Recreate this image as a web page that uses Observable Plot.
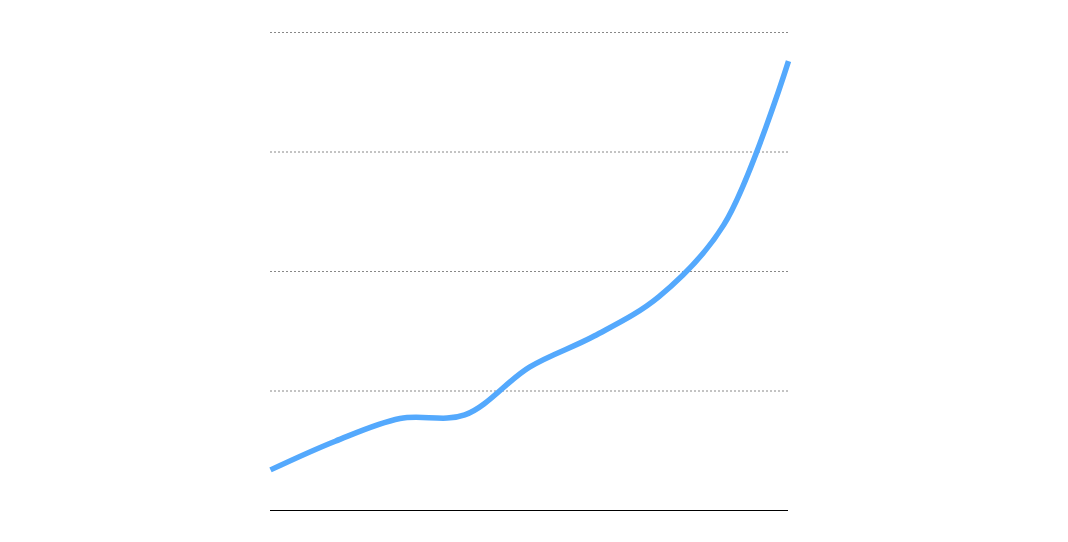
<!DOCTYPE html>
<html>
<head>
<meta charset="utf-8">
<script src="https://cdn.jsdelivr.net/npm/d3@7"></script>
<script src="https://cdn.jsdelivr.net/npm/@observablehq/plot@0.6"></script>
<style>
  html, body { margin: 0; padding: 0; background: #fff; }
  #chart svg { display: block; }
</style>
</head>
<body>
<div id="chart"></div>
<script>
const xIndex = [0, 1, 2, 3, 4, 5, 6, 7, 8];
const values = [0.34, 0.58, 0.77, 0.80, 1.20, 1.46, 1.79, 2.39, 3.76];
const gridTicks = [1, 2, 3, 4];

const data = xIndex.map((x, i) => ({x, y: values[i]}));

const chart = Plot.plot({
  width: 1068,
  height: 542,
  marginLeft: 270,
  marginRight: 280,
  marginTop: 32,
  marginBottom: 32,
  x: {domain: [0, 8], axis: null},
  y: {domain: [0, 4], axis: null},
  marks: [
    Plot.ruleY(gridTicks, {stroke: "#888", strokeWidth: 1, strokeDasharray: "2,2"}),
    Plot.ruleY([0], {stroke: "#000", strokeWidth: 1}),
    Plot.line(data, {x: "x", y: "y", curve: "catmull-rom", stroke: "#54a9fd", strokeWidth: 5.5, strokeLinecap: "butt"})
  ]
});
document.getElementById("chart").appendChild(chart);
</script>
</body>
</html>
